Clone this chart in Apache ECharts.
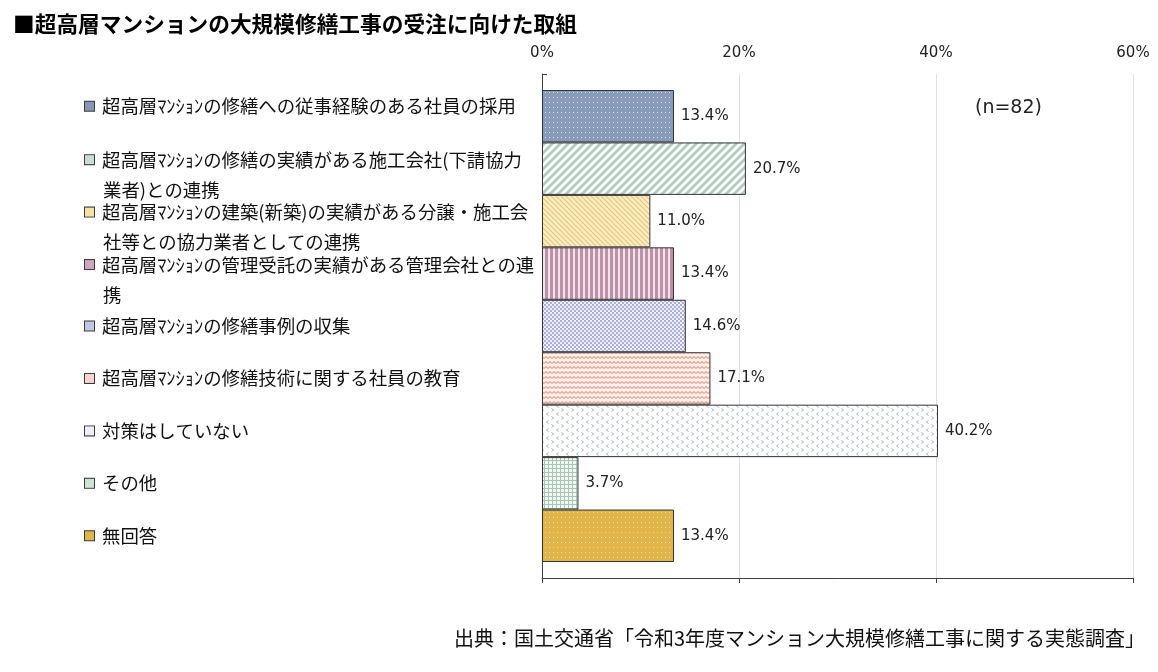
<!DOCTYPE html>
<html>
<head>
<meta charset="utf-8">
<script src="https://cdn.jsdelivr.net/npm/echarts@6/dist/echarts.min.js"></script>
<style>
html,body{margin:0;padding:0;background:#fff;}
#c{width:1158px;height:672px;}
</style>
</head>
<body>
<div id="c"></div>
<script>
const titleText = '■超高層マンションの大規模修繕工事の受注に向けた取組';
const sourceText = '出典：国土交通省「令和3年度マンション大規模修繕工事に関する実態調査」';
const sampleText = '(n=82)';
const categories = [
  '超高層ﾏﾝｼｮﾝの修繕への従事経験のある社員の採用',
  '超高層ﾏﾝｼｮﾝの修繕の実績がある施工会社(下請協力\n業者)との連携',
  '超高層ﾏﾝｼｮﾝの建築(新築)の実績がある分譲・施工会\n社等との協力業者としての連携',
  '超高層ﾏﾝｼｮﾝの管理受託の実績がある管理会社との連\n携',
  '超高層ﾏﾝｼｮﾝの修繕事例の収集',
  '超高層ﾏﾝｼｮﾝの修繕技術に関する社員の教育',
  '対策はしていない',
  'その他',
  '無回答'
];
const values = [13.4, 20.7, 11.0, 13.4, 14.6, 17.1, 40.2, 3.7, 13.4];
const axisMin = 0, axisMax = 60, axisStep = 20;

function mk(w, h, draw) {
  const c = document.createElement('canvas');
  c.width = w; c.height = h;
  const g = c.getContext('2d');
  draw(g, w, h);
  return c;
}
const patterns = [
  mk(4, 5, (g,w,h) => { g.fillStyle = '#889bb8'; g.fillRect(0,0,w,h); g.fillStyle = '#d8e0ec'; g.fillRect(1,2,1,1); }),
  mk(8, 8, (g,w,h) => { g.fillStyle = '#ffffff'; g.fillRect(0,0,w,h); g.strokeStyle = '#b3cbc1'; g.lineWidth = 3;
        for (let k=-2;k<=2;k++){ g.beginPath(); g.moveTo(k*8-1, h+1); g.lineTo(k*8+w+1, -1); g.stroke(); } }),
  mk(5, 5, (g,w,h) => { g.fillStyle = '#fcedc0'; g.fillRect(0,0,w,h); g.strokeStyle = '#e6c684'; g.lineWidth = 1.2;
        for (let k=-2;k<=2;k++){ g.beginPath(); g.moveTo(k*5-1, -1); g.lineTo(k*5+w+1, h+1); g.stroke(); } }),
  mk(5, 4, (g,w,h) => { g.fillStyle = '#f1e3ea'; g.fillRect(0,0,w,h); g.fillStyle = '#bf91a9'; g.fillRect(0,0,3,h); }),
  mk(4, 4, (g,w,h) => { g.fillStyle = '#eeeefa'; g.fillRect(0,0,w,h); g.fillStyle = '#aeb0d8'; g.fillRect(0,0,2,2); g.fillRect(2,2,2,2); }),
  mk(8, 5, (g,w,h) => { g.fillStyle = '#fdf1ec'; g.fillRect(0,0,w,h); g.strokeStyle = '#eca794'; g.lineWidth = 1.2;
        g.beginPath(); g.moveTo(0,3.5); g.lineTo(2,1.5); g.lineTo(4,3.5); g.lineTo(6,1.5); g.lineTo(8,3.5); g.stroke(); }),
  mk(10, 8, (g,w,h) => { g.fillStyle = '#ffffff'; g.fillRect(0,0,w,h); g.strokeStyle = '#a4b0c4'; g.lineWidth = 1;
        g.beginPath(); g.moveTo(1.5,0.5); g.lineTo(3.5,2); g.lineTo(1.5,3.5); g.stroke();
        g.beginPath(); g.moveTo(8.5,4.5); g.lineTo(6.5,6); g.lineTo(8.5,7.5); g.stroke(); }),
  mk(4, 4, (g,w,h) => { g.fillStyle = '#f3f8f5'; g.fillRect(0,0,w,h); g.fillStyle = '#a7c6b6'; g.fillRect(0,0,w,1); g.fillRect(0,0,1,h); }),
  mk(4, 5, (g,w,h) => { g.fillStyle = '#e2b54b'; g.fillRect(0,0,w,h); g.fillStyle = '#f4dc98'; g.fillRect(1,2,1,1); })
];
const markerColors = ['#8597b3', '#c9dcd3', '#f6e2a4', '#cfa6bb', '#c4c6e6', '#f6d6cc', '#eef0f6', '#cfe2d8', '#e2b54b'];

const rich = {
  t: { fontSize: 18.4, lineHeight: 30, color: '#111', fontFamily: '"Noto Sans CJK JP", sans-serif' },
  g: { width: 8 },
  s: { width: 18 }
};
markerColors.forEach((c, i) => {
  rich['m' + i] = { width: 9, height: 9, backgroundColor: c, borderColor: '#3a3a3a', borderWidth: 1 };
});

function catItem(c, i) {
  if (i === 0) return { value: c, textStyle: { align: 'left', padding: [0, 0, 20, 0] } };
  if (c.indexOf('\n') >= 0) return { value: c, textStyle: { align: 'left', padding: [12, 0, 0, 0] } };
  return c;
}

const chart = echarts.init(document.getElementById('c'), null, { renderer: 'canvas' });
chart.setOption({
  animation: false,
  backgroundColor: '#ffffff',
  title: {
    text: titleText, left: 8, top: 8,
    textStyle: { fontSize: 21.7, fontWeight: 'bold', color: '#000', fontFamily: '"Noto Sans CJK JP", sans-serif' }
  },
  graphic: [
    { type: 'text', right: 13, top: 628, style: { text: sourceText, fontSize: 20, fill: '#111', fontFamily: '"Noto Sans CJK JP", sans-serif' } },
    { type: 'text', left: 975, top: 99, style: { text: sampleText, fontSize: 19, fill: '#222', fontFamily: '"DejaVu Sans", sans-serif' } }
  ],
  grid: [
    { left: 542, right: 25, top: 90, height: 472, containLabel: false, outerBoundsMode: 'none' },
    { left: 542, right: 25, top: 74, height: 504, containLabel: false, outerBoundsMode: 'none' }
  ],
  xAxis: [
    { gridIndex: 0, type: 'value', min: axisMin, max: axisMax, interval: axisStep, show: false },
    { gridIndex: 1, type: 'value', position: 'top', min: axisMin, max: axisMax, interval: axisStep,
      axisLine: { show: true, lineStyle: { color: '#404040', width: 1 } },
      axisTick: { show: true, inside: true, length: 5, lineStyle: { color: '#404040' } },
      axisLabel: { formatter: '{value}%', fontSize: 15, color: '#222', margin: 13, fontFamily: '"DejaVu Sans", sans-serif' },
      splitLine: { show: true, lineStyle: { color: '#e0e0e0', width: 1 } } }
  ],
  yAxis: [
    { gridIndex: 0, type: 'category', inverse: true,
      data: categories.map(catItem),
      axisLine: { show: false }, axisTick: { show: false },
      axisLabel: {
        align: 'left', margin: 542 - 85, interval: 0,
        formatter: (v, idx) => v.split('\n').map((l, k) => k === 0 ? '{m' + idx + '|}{g|}{t|' + l + '}' : '{s|}{t|' + l + '}').join('\n'),
        rich: rich
      } },
    { gridIndex: 1, type: 'value', min: 0, max: 1, interval: 1,
      axisLine: { show: true, lineStyle: { color: '#404040', width: 1 } },
      axisTick: { show: true, inside: true, length: 5, lineStyle: { color: '#404040' } },
      axisLabel: { show: false }, splitLine: { show: false } }
  ],
  series: [{
    type: 'bar', xAxisIndex: 0, yAxisIndex: 0,
    data: values.map((v, i) => ({ value: v, itemStyle: { color: { image: patterns[i], repeat: 'repeat' } } })),
    barCategoryGap: 0,
    itemStyle: { borderColor: '#333', borderWidth: 1 },
    label: { show: true, position: 'right', distance: 7, formatter: p => p.value.toFixed(1) + '%',
      fontSize: 15, color: '#222', fontFamily: '"DejaVu Sans", sans-serif' }
  }]
});
</script>
</body>
</html>
